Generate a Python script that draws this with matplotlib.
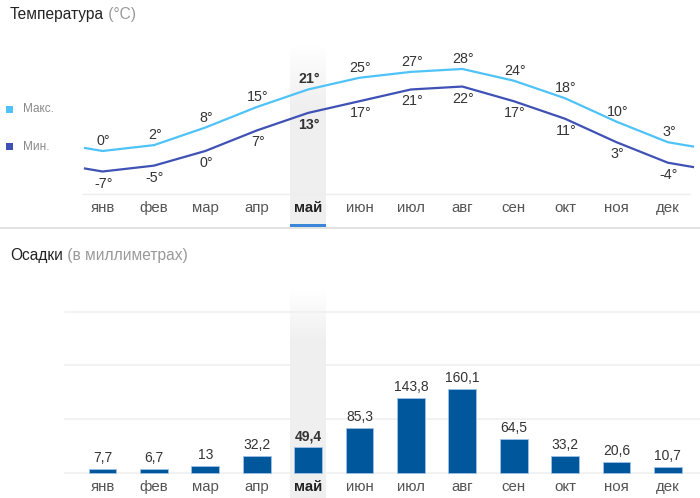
import numpy as np
import matplotlib
matplotlib.use("Agg")
import matplotlib.pyplot as plt
from matplotlib.transforms import blended_transform_factory
from matplotlib.patches import Rectangle

plt.rcParams['font.family'] = ['Liberation Sans', 'DejaVu Sans']

months = ["янв", "фев", "мар", "апр", "май", "июн", "июл", "авг", "сен", "окт", "ноя", "дек"]
t_max = [0, 2, 8, 15, 21, 25, 27, 28, 24, 18, 10, 3]
t_min = [-7, -5, 0, 7, 13, 17, 21, 22, 17, 11, 3, -4]
precip = [7.7, 6.7, 13, 32.2, 49.4, 85.3, 143.8, 160.1, 64.5, 33.2, 20.6, 10.7]
precip_labels = ["7,7", "6,7", "13", "32,2", "49,4", "85,3", "143,8", "160,1", "64,5", "33,2", "20,6", "10,7"]
highlight = 4  # май

W, H = 700, 498
fig = plt.figure(figsize=(7.0, 4.98), dpi=100)
fig.patch.set_facecolor('white')

X0, DX = 102.5, 51.4  # pixel layout of month slots


def px2x(p):
    return (p - X0) / DX


def fy(p):
    return 1 - p / H


C_MAX = '#4fc3f7'
C_MIN = '#3f51b5'
C_BAR = '#01579b'
C_TXT = '#333333'
C_MON = '#555555'
C_GRAY = '#8a8a8a'
MON_FS = 10.8

# ---------------- Temperature ----------------
T0, TS = 151.0, 2.93  # pixel of 0 deg, pixels per deg
ax1 = fig.add_axes([0, fy(227), 1, (227 - 40) / H])
ax1.set_axis_off()
xl = (px2x(0), px2x(W))
yl1 = ((T0 - 227) / TS, (T0 - 40) / TS)


def band(ax, ptop, pbot, tofun, fade):
    n = 200
    alpha = np.clip(np.linspace(0, 1, n) / fade, 0, 1)[:, None]
    img = np.zeros((n, 1, 4))
    img[..., 0:3] = 0.94
    img[..., 3] = alpha
    ax.imshow(img, extent=(px2x(290), px2x(326), tofun(pbot), tofun(ptop)),
              origin='upper', aspect='auto', zorder=0, interpolation='bilinear')


band(ax1, 45, 227, lambda p: (T0 - p) / TS, 0.35)

# lines with wrap-around at edges
xi = np.arange(12)
xe = np.concatenate(([-1], xi, [12]))
mx = np.concatenate(([t_max[-1]], t_max, [t_max[0]]))
mn = np.concatenate(([t_min[-1]], t_min, [t_min[0]]))
xs = np.concatenate(([px2x(85)], xi, [px2x(693)]))
ax1.plot(xs, np.interp(xs, xe, mx), color=C_MAX, lw=1.6, zorder=3, solid_joinstyle='round')
ax1.plot(xs, np.interp(xs, xe, mn), color=C_MIN, lw=1.6, zorder=3, solid_joinstyle='round')

for i in range(12):
    bold = 'bold' if i == highlight else 'normal'
    ax1.annotate(f"{t_max[i]}°", (i, t_max[i]), xytext=(1, 3), textcoords='offset pixels',
                 ha='center', va='bottom', fontsize=10.3, color=C_TXT, fontweight=bold)
    ax1.annotate(f"{t_min[i]}°", (i, t_min[i]), xytext=(1, -5), textcoords='offset pixels',
                 ha='center', va='top', fontsize=10.3, color=C_TXT, fontweight=bold)

tr1 = blended_transform_factory(ax1.transData, fig.transFigure)
for i, m in enumerate(months):
    if i == highlight:
        ax1.text(i, fy(208), m, transform=tr1, ha='center', va='center', fontsize=MON_FS,
                 color='#222222', fontweight='bold')
    else:
        ax1.text(i, fy(208), m, transform=tr1, ha='center', va='center', fontsize=MON_FS, color=C_MON)

# axis line and separators
ax1.plot([px2x(83), px2x(690)], [fy(194)] * 2, transform=tr1, color='#eeeeee', lw=1, zorder=1)
fig.add_artist(plt.Line2D([0, 1], [fy(227.5)] * 2, color='#dddddd', lw=1.2))
fig.add_artist(Rectangle((290 / W, fy(227)), 36 / W, 3 / H, color='#3a86d8', lw=0))

ax1.set_xlim(*xl)
ax1.set_ylim(*yl1)

# title
t1 = fig.text(10 / W, fy(14), "Температура", fontsize=11.2, color='#222222', va='center', ha='left')
ax1.annotate(" (°C)", xy=(1, 0), xycoords=t1, va='bottom', ha='left', fontsize=11.2, color='#999999',
             annotation_clip=False)

# legend
fig.add_artist(Rectangle((6 / W, fy(113)), 7 / W, 7 / H, color=C_MAX, lw=0))
fig.text(23 / W, fy(109.5), "Макс.", fontsize=8.5, color=C_GRAY, va='center')
fig.add_artist(Rectangle((6 / W, fy(150)), 7 / W, 7 / H, color=C_MIN, lw=0))
fig.text(23 / W, fy(146.5), "Мин.", fontsize=8.5, color=C_GRAY, va='center')

# ---------------- Precipitation ----------------
B0, BS = 473.0, 0.524  # baseline pixel, pixels per mm
grid_step = 102.6
ax2 = fig.add_axes([0, 0, 1, (H - 280) / H])
ax2.set_axis_off()
p2v = lambda p: (B0 - p) / BS
band(ax2, 290, H, p2v, 0.25)

for g in range(4):
    ax2.plot([px2x(65), px2x(W)], [g * grid_step] * 2, color='#f0f0f0', lw=1.2, zorder=1)

ax2.bar(xi, precip, width=0.54, color=C_BAR, edgecolor='#9fc3e6', linewidth=0.6, zorder=3)
for i in range(12):
    bold = 'bold' if i == highlight else 'normal'
    ax2.annotate(precip_labels[i], (i, precip[i]), xytext=(0, 4), textcoords='offset pixels',
                 ha='center', va='bottom', fontsize=10, color=C_TXT, fontweight=bold)

tr2 = blended_transform_factory(ax2.transData, fig.transFigure)
for i, m in enumerate(months):
    if i == highlight:
        ax2.text(i, fy(487), m, transform=tr2, ha='center', va='center', fontsize=MON_FS,
                 color='#222222', fontweight='bold')
    else:
        ax2.text(i, fy(487), m, transform=tr2, ha='center', va='center', fontsize=MON_FS, color=C_MON)

ax2.set_xlim(*xl)
ax2.set_ylim(p2v(H), p2v(280))

t2 = fig.text(10 / W, fy(255), "Осадки", fontsize=11.2, color='#222222', va='center', ha='left')
ax2.annotate(" (в миллиметрах)", xy=(1, 0), xycoords=t2, va='bottom', ha='left', fontsize=11.2,
             color='#999999', annotation_clip=False)

fig.savefig("out.png", dpi=100, facecolor='white')
